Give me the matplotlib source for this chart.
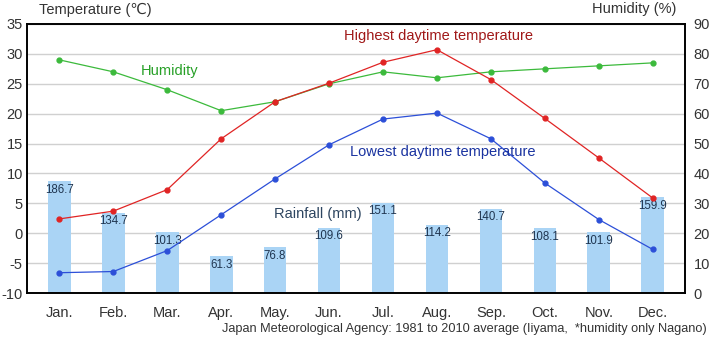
import numpy as np
import matplotlib.pyplot as plt

months = ['Jan.', 'Feb.', 'Mar.', 'Apr.', 'May.', 'Jun.', 'Jul.', 'Aug.', 'Sep.', 'Oct.', 'Nov.', 'Dec.']
high_temp = [2.4, 3.7, 7.3, 15.8, 22.0, 25.1, 28.6, 30.7, 25.7, 19.2, 12.6, 5.9]
low_temp = [-6.6, -6.4, -2.9, 3.1, 9.1, 14.8, 19.1, 20.1, 15.8, 8.4, 2.3, -2.7]
humidity = [78, 74, 68, 61, 64, 70, 74, 72, 74, 75, 76, 77]
rainfall = [186.7, 134.7, 101.3, 61.3, 76.8, 109.6, 151.1, 114.2, 140.7, 108.1, 101.9, 159.9]

plt.rcParams['font.family'] = ['Liberation Sans', 'DejaVu Sans']
plt.rcParams['axes.unicode_minus'] = False
txt = '#333333'

fig = plt.figure(figsize=(7.2, 3.38), dpi=100)
ax = fig.add_axes([0.0375, 0.133, 0.914, 0.796])
ax2 = ax.twinx()
ax.set_zorder(ax2.get_zorder() + 1)
ax.patch.set_visible(False)

x = np.arange(len(months))

# rainfall bars on the humidity axis, 1 unit = 5 mm
ax2.bar(x, np.array(rainfall) / 5, width=0.42, color='#aad4f5', zorder=1)
for xi, r in zip(x, rainfall):
    ax2.text(xi, r / 5 - 0.8, f'{r:.1f}', ha='center', va='top', fontsize=8.3, color='#1f3550', zorder=5)

ax2.plot(x, humidity, color='#3cba3c', lw=0.9, marker='o', ms=3.5, zorder=3)
ax.plot(x, high_temp, color='#e02424', lw=0.9, marker='o', ms=3.5, zorder=3)
ax.plot(x, low_temp, color='#2c4fd8', lw=0.9, marker='o', ms=3.5, zorder=3)

ax.set_xlim(-0.6, 11.6)
ax.set_ylim(-10, 35)
ax.set_yticks(range(-10, 36, 5))
ax2.set_ylim(0, 90)
ax2.set_yticks(range(0, 91, 10))
ax.set_xticks(x)
ax.set_xticklabels(months)

ax2.grid(axis='y', color='#d0d0d0', lw=1)
ax2.set_axisbelow(True)
for a in (ax, ax2):
    a.tick_params(length=0, labelsize=10.5, colors=txt)
    for s in a.spines.values():
        s.set_color('black')
        s.set_linewidth(1.2)
ax.tick_params(axis='x', pad=9)
ax.tick_params(axis='y', pad=3)
ax2.tick_params(axis='y', pad=6)

ax.text(7.03, 33.0, 'Highest daytime temperature', color='#a01818', fontsize=10.5, ha='center', va='center')
ax.text(2.05, 27.1, 'Humidity', color='#27a027', fontsize=10.5, ha='center', va='center')
ax.text(7.1, 13.6, 'Lowest daytime temperature', color='#1a33a0', fontsize=10.5, ha='center', va='center')
ax.text(4.8, 3.25, 'Rainfall (mm)', color='#2d4560', fontsize=10.5, ha='center', va='center')

fig.text(0.054, 0.972, 'Temperature (\u2103)', fontsize=10.5, color=txt, va='center')
fig.text(0.94, 0.972, 'Humidity (%)', fontsize=10.5, color=txt, va='center', ha='right')
fig.text(0.982, 0.027, 'Japan Meteorological Agency: 1981 to 2010 average (Iiyama,  *humidity only Nagano)',
         fontsize=9.2, color=txt, ha='right', va='center')

fig.savefig('out.png', dpi=100)
